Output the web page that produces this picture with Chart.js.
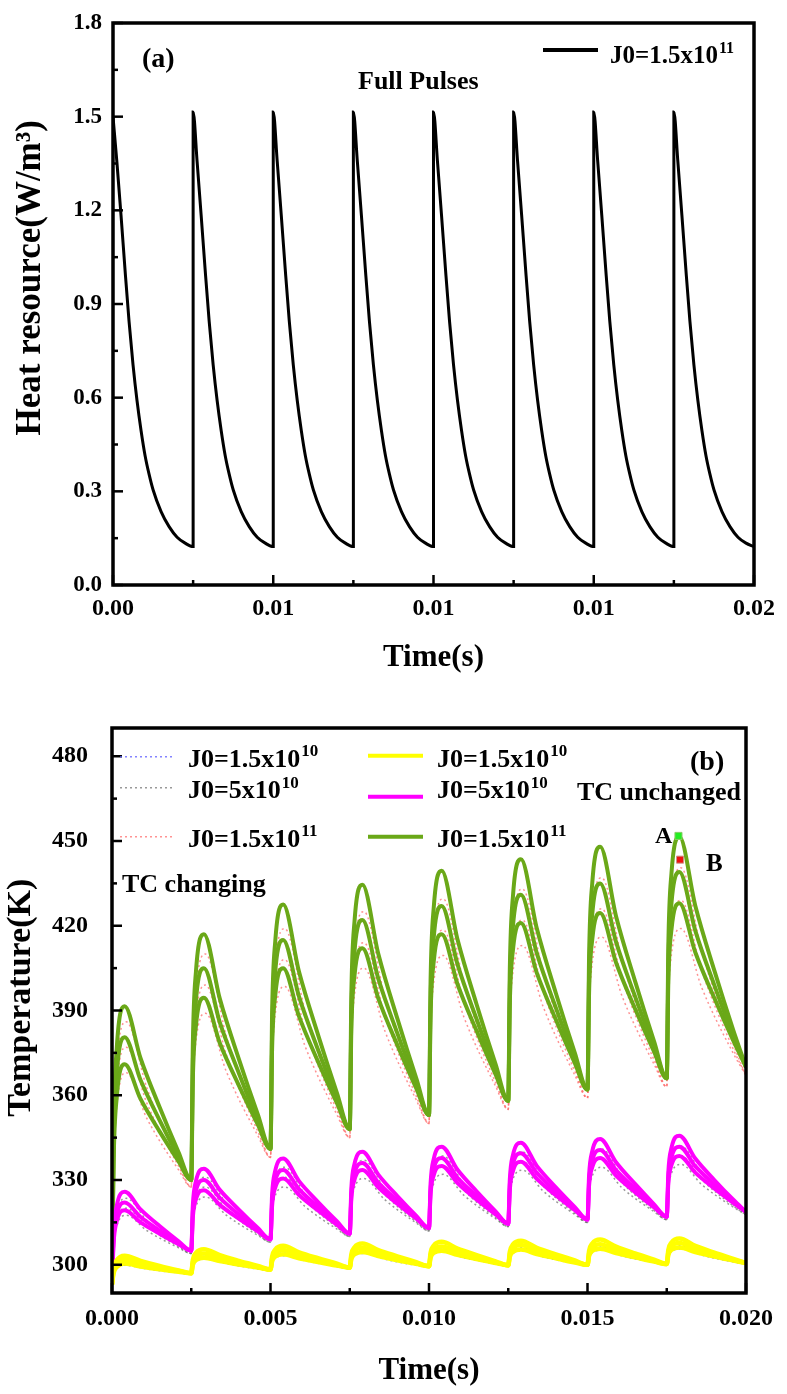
<!DOCTYPE html>
<html><head><meta charset="utf-8">
<script src="https://cdn.jsdelivr.net/npm/chart.js@4.4.1/dist/chart.umd.min.js"></script>
<style>
html,body{margin:0;padding:0;background:#fff;}
#wa{position:absolute;left:0;top:0;width:787px;height:690px;}
#wb{position:absolute;left:0;top:690px;width:787px;height:704px;}
canvas{display:block;}
</style></head><body>
<div id="wa"><canvas id="ca"></canvas></div>
<div id="wb"><canvas id="cb"></canvas></div>
<script>
// ---------- Panel (a) data ----------
const heatTime = [
0,0.000125,0.00025,0.000375,0.0005,0.000625,0.00075,0.000875,0.001,0.001125,0.00125,0.0015,0.00175,0.002,0.00225,0.0025,
0.0025,0.002625,0.00275,0.002875,0.003,0.003125,0.00325,0.003375,0.0035,0.003625,0.00375,0.004,0.00425,0.0045,0.00475,0.005,
0.005,0.005125,0.00525,0.005375,0.0055,0.005625,0.00575,0.005875,0.006,0.006125,0.00625,0.0065,0.00675,0.007,0.00725,0.0075,
0.0075,0.007625,0.00775,0.007875,0.008,0.008125,0.00825,0.008375,0.0085,0.008625,0.00875,0.009,0.00925,0.0095,0.00975,0.01,
0.01,0.010125,0.01025,0.010375,0.0105,0.010625,0.01075,0.010875,0.011,0.011125,0.01125,0.0115,0.01175,0.012,0.01225,0.0125,
0.0125,0.012625,0.01275,0.012875,0.013,0.013125,0.01325,0.013375,0.0135,0.013625,0.01375,0.014,0.01425,0.0145,0.01475,0.015,
0.015,0.015125,0.01525,0.015375,0.0155,0.015625,0.01575,0.015875,0.016,0.016125,0.01625,0.0165,0.01675,0.017,0.01725,0.0175,
0.0175,0.017625,0.01775,0.017875,0.018,0.018125,0.01825,0.018375,0.0185,0.018625,0.01875,0.019,0.01925,0.0195,0.01975,0.02];
const heatValue = [
1.5,1.35,1.185,1.01,0.845,0.705,0.59,0.495,0.415,0.355,0.305,0.235,0.187,0.153,0.134,0.123,
1.515,1.355,1.185,1.01,0.845,0.705,0.59,0.495,0.415,0.355,0.305,0.235,0.187,0.153,0.134,0.123,
1.515,1.355,1.185,1.01,0.845,0.705,0.59,0.495,0.415,0.355,0.305,0.235,0.187,0.153,0.134,0.123,
1.515,1.355,1.185,1.01,0.845,0.705,0.59,0.495,0.415,0.355,0.305,0.235,0.187,0.153,0.134,0.123,
1.515,1.355,1.185,1.01,0.845,0.705,0.59,0.495,0.415,0.355,0.305,0.235,0.187,0.153,0.134,0.123,
1.515,1.355,1.185,1.01,0.845,0.705,0.59,0.495,0.415,0.355,0.305,0.235,0.187,0.153,0.134,0.123,
1.515,1.355,1.185,1.01,0.845,0.705,0.59,0.495,0.415,0.355,0.305,0.235,0.187,0.153,0.134,0.123,
1.515,1.355,1.185,1.01,0.845,0.705,0.59,0.495,0.415,0.355,0.305,0.235,0.187,0.153,0.134,0.123];
const xTicksA = [0,0.005,0.01,0.015,0.02];
const xLabelsA = ['0.00','0.01','0.01','0.01','0.02'];
const xMinorA = [0.0025,0.0075,0.0125,0.0175];
const yTicksA = [0,0.3,0.6,0.9,1.2,1.5,1.8];
const yLabelsA = ['0.0','0.3','0.6','0.9','1.2','1.5','1.8'];
const yMinorA = [0.15,0.45,0.75,1.05,1.35,1.65];

// ---------- Panel (b) data ----------
const timeSolid = [
0,0.00005,0.00015,0.0004,0.0009,0.0015,0.0021,
0.0025,0.00255,0.00265,0.0029,0.0034,0.004,0.0046,
0.005,0.00505,0.00515,0.0054,0.0059,0.0065,0.0071,
0.0075,0.00755,0.00765,0.0079,0.0084,0.009,0.0096,
0.01,0.01005,0.01015,0.0104,0.0109,0.0115,0.0121,
0.0125,0.01255,0.01265,0.0129,0.0134,0.014,0.0146,
0.015,0.01505,0.01515,0.0154,0.0159,0.0165,0.0171,
0.0175,0.01755,0.01765,0.0179,0.0184,0.019,0.0196,
0.02];
const timeDotted = [
0,0.00008,0.00045,0.0011,0.0021,
0.0025,0.00258,0.00295,0.0036,0.0046,
0.005,0.00508,0.00545,0.0061,0.0071,
0.0075,0.00758,0.00795,0.0086,0.0096,
0.01,0.01008,0.01045,0.0111,0.0121,
0.0125,0.01258,0.01295,0.0136,0.0146,
0.015,0.01508,0.01545,0.0161,0.0171,
0.0175,0.01758,0.01795,0.0186,0.0196,
0.02];

// TC unchanged (solid), J0=1.5x10^11
const greenTop = [
293,347.2,376.7,391.5,373.1,355.8,339.8,
330,377.9,404.0,417,394.2,372.9,353.2,
341,388.6,414.5,427.5,403.7,381.4,360.7,
348,395.6,421.5,434.5,410.1,387.2,366.0,
353,400.6,426.5,439.5,415.1,392.2,371.0,
358,405.0,430.7,443.5,419.1,396.2,375.0,
362,409.3,435.1,448,423.4,400.4,379.1,
366,413.0,438.7,451.5,427.1,404.2,383.0,
370];
const greenMid = [
293,341.1,367.4,380.5,365.4,351.2,338.1,
330,371.3,393.8,405,385.8,367.9,351.2,
341,381.7,403.9,415,394.9,376.1,358.7,
348,388.7,410.9,422,401.3,382.0,364.0,
353,393.7,415.9,427,406.3,387.0,369.0,
358,398.2,420.1,431,410.3,391.0,373.0,
362,402.2,424.1,435,414.3,395.0,377.0,
366,406.2,428.1,439,418.3,399.0,381.0,
370];
const greenLow = [
293,335.9,359.3,371,358.7,347.2,336.6,
330,365.5,384.8,394.5,378.5,363.5,349.6,
341,376.2,395.4,405,387.9,371.9,357.1,
348,383.2,402.4,412,394.3,377.8,362.4,
353,388.2,407.4,417,399.3,382.8,367.4,
358,392.7,411.6,421,403.3,386.8,371.4,
362,396.4,415.1,424.5,407.0,390.6,375.4,
366,400.1,418.7,428,410.6,394.4,379.3,
370];
// TC unchanged (solid), J0=5x10^10
const magentaTop = [
293,311.0,320.9,325.8,319.6,313.7,308.3,
305,321.0,329.7,334,326.5,319.5,313.0,
309,324.7,333.3,337.6,329.6,322.2,315.3,
311,327.0,335.7,340,331.9,324.3,317.3,
313,328.8,337.5,341.8,333.6,326.0,318.9,
314.5,330.3,338.9,343.2,335.0,327.4,320.4,
316,331.7,340.2,344.5,336.3,328.6,321.4,
317,332.8,341.4,345.7,337.6,330.0,323.0,
318.7];
const magentaMid = [
293,309.0,317.7,322,316.9,312.1,307.7,
305,318.8,326.3,330,323.7,317.8,312.4,
309,322.5,329.8,333.5,326.8,320.5,314.6,
311,324.8,332.3,336,329.1,322.7,316.7,
313,326.6,334.1,337.8,330.8,324.3,318.2,
314.5,328.3,335.8,339.5,332.5,325.9,319.8,
316,329.5,336.9,340.6,333.5,326.9,320.8,
317,330.6,338.1,341.8,334.9,328.4,322.4,
318.7];
const magentaLow = [
293,307.5,315.4,319.3,315.0,311.0,307.3,
305,316.8,323.2,326.4,321.2,316.3,311.8,
309,320.8,327.3,330.5,324.7,319.2,314.1,
311,323.4,330.1,333.5,327.4,321.6,316.3,
313,325.1,331.7,335,328.9,323.1,317.8,
314.5,326.6,333.2,336.5,330.4,324.6,319.3,
316,328.0,334.5,337.8,331.6,325.7,320.3,
317,328.8,335.3,338.5,332.6,327.0,321.9,
318.7];
// TC unchanged (solid), J0=1.5x10^10
const yellowTop = [
293,298.6,301.6,303.2,301.4,299.6,298.0,
297,301.7,304.2,305.5,303.4,301.4,299.6,
298.3,302.9,305.4,306.7,304.4,302.3,300.4,
299,303.7,306.2,307.5,305.2,303.0,300.9,
299.5,304.3,306.8,308.1,305.7,303.4,301.2,
299.8,304.6,307.2,308.5,306.0,303.7,301.5,
300,304.9,307.5,308.9,306.4,304.0,301.8,
300.3,305.3,307.9,309.3,306.7,304.3,302.1,
300.6];
const yellowMid = [
293,297.8,300.5,301.8,300.4,299.0,297.8,
297,300.9,303.0,304,302.3,300.7,299.2,
298.3,302.1,304.2,305.2,303.3,301.6,300.0,
299,302.9,305.0,306,304.1,302.2,300.5,
299.5,303.4,305.5,306.5,304.5,302.6,300.9,
299.8,303.8,305.9,307,304.9,302.9,301.1,
300,304.0,306.2,307.3,305.2,303.2,301.4,
300.3,304.4,306.6,307.7,305.6,303.6,301.7,
300.6];
const yellowLow = [
293,297.0,299.2,300.4,299.4,298.4,297.5,
297,300.0,301.7,302.5,301.3,300.1,299.0,
298.3,301.2,302.9,303.7,302.3,301.0,299.7,
299,302.0,303.7,304.5,303.1,301.6,300.3,
299.5,302.5,304.2,305.0,303.5,302.0,300.6,
299.8,302.9,304.6,305.4,303.8,302.3,300.8,
300,303.1,304.9,305.7,304.1,302.6,301.1,
300.3,303.5,305.3,306.1,304.5,302.9,301.5,
300.6];

// TC changing (dotted), J0=1.5x10^11
const pinkTop = [
293,358.1,386,362.6,336.3,
327.5,385.3,410,381.2,348.8,
338,394.7,419,389.4,356.1,
345,401,425,395,361.3,
350,405.7,429.5,399.7,366.2,
355,409.6,433,403.4,370.1,
359,413.6,437,407.4,374.1,
363,417.3,440.5,411.1,378.0,
367];
const pinkMid = [
293,351.8,377,357.2,334.9,
327.5,377.6,399,374.6,347.2,
338,387,408,382.8,354.5,
345,393.3,414,388.4,359.6,
350,398,418.5,393.1,364.5,
355,401.9,422,396.8,368.5,
359,405.9,426,400.8,372.5,
363,409.2,429,404.2,376.3,
367];
const pinkLow = [
293,345.5,368,351.8,333.6,
327.5,370.6,389,368.6,345.7,
338,380.4,398.5,377.1,353.0,
345,387,405,383,358.3,
350,391.7,409.5,387.7,363.2,
355,395.6,413,391.4,367.1,
359,398.9,416,394.8,371,
363,402.2,419,398.2,374.8,
367];
// TC changing (dotted), J0=5x10^10
const grayTop = [
293,314.4,323.5,315.7,306.9,
304,322.9,331,321.8,311.5,
308,326.6,334.5,324.7,313.7,
310,328.9,337,327,315.8,
312,330.6,338.5,328.5,317.3,
313.5,332.1,340,330,318.8,
315,333.2,341,331,319.8,
316,334.2,342,332.3,321.3,
317.7];
const grayMid = [
293,311.9,320,313.6,306.4,
304,320.5,327.5,319.7,310.9,
308,324.1,331,322.6,313.2,
310,326.5,333.5,324.9,315.2,
312,328.1,335,326.4,316.7,
313.5,329.6,336.5,327.9,318.2,
315,330.8,337.5,328.9,319.2,
316,331.8,338.5,330.2,320.8,
317.7];
const grayLow = [
293,310.2,317.5,312.1,306.0,
304,318,324,317.6,310.4,
308,321.7,327.5,320.5,312.6,
310,324.4,330.5,323.1,314.8,
312,326,332,324.6,316.3,
313.5,327.5,333.5,326.1,317.8,
315,328.7,334.5,327.1,318.8,
316,329.7,335.5,328.4,320.4,
317.7];
// TC changing (dotted), J0=1.5x10^10
const blueTop = [
293,299.2,301.8,299.7,297.4,
296.6,301.8,304,301.6,298.8,
297.9,303,305.2,302.6,299.6,
298.6,303.8,306,303.2,300.1,
299.1,304.4,306.6,303.7,300.5,
299.4,304.7,307,304,300.7,
299.6,305.1,307.4,304.4,301,
299.9,305.4,307.8,304.8,301.3,
300.2];
const blueMid = [
293,298.5,300.8,299.1,297.2,
296.6,301.1,303,301,298.7,
297.9,302.3,304.2,302,299.4,
298.6,303.1,305,302.6,300,
299.1,303.6,305.5,303.1,300.3,
299.4,304,306,303.4,300.6,
299.6,304.3,306.3,303.7,300.9,
299.9,304.7,306.7,304.1,301.2,
300.2];
const blueLow = [
293,297.8,299.8,298.5,297.1,
296.6,300.4,302,300.4,298.5,
297.9,301.6,303.2,301.4,299.3,
298.6,302.4,304,302,299.8,
299.1,302.9,304.5,302.5,300.2,
299.4,303.3,304.9,302.8,300.4,
299.6,303.5,305.2,303.1,300.7,
299.9,303.9,305.6,303.4,301,
300.2];

// Points A and B
const markerTime = [0.01787, 0.01792];
const markerTemp = [451.8, 443.4];

const xTicksB = [0,0.005,0.01,0.015,0.02];
const xLabelsB = ['0.000','0.005','0.010','0.015','0.020'];
const xMinorB = [0.0025,0.0075,0.0125,0.0175];
const yTicksB = [300,330,360,390,420,450,480];
const yLabelsB = ['300','330','360','390','420','450','480'];
const yMinorB = [315,345,375,405,435,465];

const legendBase = ['J0=1.5x10','J0=5x10','J0=1.5x10'];
const legendSup = ['10','10','11'];

// ---------- helpers ----------
const FONT = '"Liberation Serif", "Times New Roman", serif';
function pairs(t, v){ return v.map((y,i)=>({x:t[i], y:y})); }
function supText(ctx, base, sup, x, y, size, supSize){
  ctx.font = 'bold ' + size + 'px ' + FONT;
  ctx.fillText(base, x, y);
  const w = ctx.measureText(base).width;
  ctx.font = 'bold ' + supSize + 'px ' + FONT;
  ctx.fillText(sup, x + w + 1, y - size * 0.4);
}
const frameTicks = {
  id: 'frameTicks',
  afterDatasetsDraw(chart, args, o){
    const ctx = chart.ctx, a = chart.chartArea, sx = chart.scales.x, sy = chart.scales.y;
    ctx.save();
    ctx.strokeStyle = '#000';
    ctx.lineWidth = 2.5;
    ctx.lineCap = 'butt';
    const seg = (x1,y1,x2,y2)=>{ctx.beginPath();ctx.moveTo(x1,y1);ctx.lineTo(x2,y2);ctx.stroke();};
    o.xMajor.forEach(v=>{const p=sx.getPixelForValue(v); seg(p,a.bottom,p,a.bottom-10);});
    o.xMinor.forEach(v=>{const p=sx.getPixelForValue(v); seg(p,a.bottom,p,a.bottom-5);});
    o.yMajor.forEach(v=>{const p=sy.getPixelForValue(v); seg(a.left,p,a.left+10,p);});
    o.yMinor.forEach(v=>{const p=sy.getPixelForValue(v); seg(a.left,p,a.left+5,p);});
    ctx.lineWidth = 3.5;
    ctx.strokeRect(a.left, a.top, a.right-a.left, a.bottom-a.top);
    ctx.restore();
  }
};

Chart.defaults.font.family = FONT;
Chart.defaults.font.weight = 'bold';
Chart.defaults.color = '#000';

// ---------- Chart (a) ----------
const annotA = {
  id: 'annotA',
  afterDraw(chart){
    const ctx = chart.ctx;
    ctx.save();
    ctx.fillStyle = '#000';
    ctx.textAlign = 'left';
    ctx.textBaseline = 'alphabetic';
    ctx.font = 'bold 28px ' + FONT;
    ctx.fillText('(a)', 142, 67);
    ctx.font = 'bold 26px ' + FONT;
    ctx.fillText('Full Pulses', 358, 89);
    ctx.strokeStyle = '#000';
    ctx.lineWidth = 4;
    ctx.beginPath(); ctx.moveTo(543,50); ctx.lineTo(598,50); ctx.stroke();
    supText(ctx, 'J0=1.5x10', '11', 610, 63, 25, 16);
    ctx.restore();
  }
};

new Chart(document.getElementById('ca'), {
  type: 'line',
  data: { datasets: [{
    label: 'J0=1.5x10^11',
    data: pairs(heatTime, heatValue),
    borderColor: '#000', borderWidth: 3, pointRadius: 0,
    cubicInterpolationMode: 'monotone', fill: false
  }]},
  options: {
    responsive: true, maintainAspectRatio: false, animation: false, devicePixelRatio: 1,
    layout: { padding: { top: 23, right: 32, left: 0, bottom: 0 } },
    plugins: { legend: {display:false}, tooltip: {enabled:false},
      frameTicks: { xMajor: xTicksA, xMinor: xMinorA, yMajor: yTicksA, yMinor: yMinorA } },
    scales: {
      x: { type: 'linear', min: 0, max: 0.02,
        afterBuildTicks: s => { s.ticks = xTicksA.map(v=>({value:v})); },
        afterFit: s => { s.height = 105; },
        ticks: { callback: (v,i) => xLabelsA[i], font: {size: 24, weight:'bold', lineHeight: 1}, padding: 12, maxRotation: 0, color:'#000' },
        grid: { display: false, drawTicks: false }, border: { display: false },
        title: { display: true, text: 'Time(s)', font: {size: 31, weight:'bold', lineHeight: 1}, padding: {top:0, bottom: 17}, color:'#000' }
      },
      y: { type: 'linear', min: 0, max: 1.8,
        afterBuildTicks: s => { s.ticks = yTicksA.map(v=>({value:v})); },
        afterFit: s => { s.width = 113; },
        ticks: { callback: (v,i) => yLabelsA[i], font: {size: 23, weight:'bold', lineHeight: 1}, padding: 11, color:'#000' },
        grid: { display: false, drawTicks: false }, border: { display: false },
        title: { display: true, text: '      Heat resource(W/m³)', font: {size: 35, weight:'bold', lineHeight: 1}, padding: {top: 13, bottom: 0}, color:'#000' }
      }
    }
  },
  plugins: [frameTicks, annotA]
});

// ---------- Chart (b) ----------
const GREEN = '#6aa818', MAGENTA = '#ff00ff', YELLOW = '#ffff00';
const PINK = 'rgba(255,110,110,0.75)', GRAY = 'rgba(110,110,110,0.7)', BLUE = 'rgba(90,90,255,0.75)';

function solid(label, vals, color, w){
  return { label, data: pairs(timeSolid, vals), borderColor: color, borderWidth: w || 4, pointRadius: 0,
    cubicInterpolationMode: 'monotone', fill: false, order: 2 };
}
function dotted(label, vals, color){
  return { label, data: pairs(timeDotted, vals), borderColor: color, borderWidth: 1.5, borderDash: [2,3], pointRadius: 0,
    cubicInterpolationMode: 'monotone', fill: false, order: 3 };
}

const annotB = {
  id: 'annotB',
  afterDraw(chart){
    const ctx = chart.ctx;
    ctx.save();
    ctx.fillStyle = '#000';
    ctx.textAlign = 'left';
    ctx.textBaseline = 'alphabetic';
    const dotCols = [BLUE, GRAY, PINK];
    const solCols = [YELLOW, MAGENTA, GREEN];
    const lineYL = [66.7, 97.7, 146.7];
    const lineYR = [65.7, 106.7, 146.7];
    const baseY = [76.7, 108.3, 156.7];
    for (let i=0;i<3;i++){
      ctx.strokeStyle = dotCols[i]; ctx.lineWidth = 1.5; ctx.setLineDash([2,3]);
      ctx.beginPath(); ctx.moveTo(120, lineYL[i]); ctx.lineTo(172, lineYL[i]); ctx.stroke();
      ctx.setLineDash([]);
      ctx.strokeStyle = solCols[i]; ctx.lineWidth = 4;
      ctx.beginPath(); ctx.moveTo(368, lineYR[i]); ctx.lineTo(423, lineYR[i]); ctx.stroke();
      supText(ctx, legendBase[i], legendSup[i], 188, baseY[i], 26, 17);
      supText(ctx, legendBase[i], legendSup[i], 437, baseY[i], 26, 17);
    }
    ctx.font = 'bold 28px ' + FONT; ctx.fillText('(b)', 690, 80);
    ctx.font = 'bold 26px ' + FONT; ctx.fillText('TC unchanged', 577, 110);
    ctx.font = 'bold 26px ' + FONT; ctx.fillText('TC changing', 122, 202);
    ctx.font = 'bold 24px ' + FONT; ctx.fillText('A', 655, 153);
    ctx.font = 'bold 25px ' + FONT; ctx.fillText('B', 706, 181);
    ctx.restore();
  }
};

new Chart(document.getElementById('cb'), {
  type: 'line',
  data: { datasets: [
    { label: 'A', data: [{x: markerTime[0], y: markerTemp[0]}], showLine: false, pointStyle: 'rect',
      pointRadius: 5, backgroundColor: '#22ee22', borderColor: '#88cc66', borderWidth: 1, order: 0 },
    { label: 'B', data: [{x: markerTime[1], y: markerTemp[1]}], showLine: false, pointStyle: 'rect',
      pointRadius: 5, backgroundColor: '#ee1111', borderColor: '#cc9988', borderWidth: 1, order: 0 },
    solid('J0=1.5x10^10 TC unchanged', yellowTop, YELLOW, 4.5),
    solid('J0=1.5x10^10 TC unchanged mid', yellowMid, YELLOW, 4.5),
    solid('J0=1.5x10^10 TC unchanged low', yellowLow, YELLOW, 4.5),
    solid('J0=5x10^10 TC unchanged', magentaTop, MAGENTA),
    solid('J0=5x10^10 TC unchanged mid', magentaMid, MAGENTA),
    solid('J0=5x10^10 TC unchanged low', magentaLow, MAGENTA),
    solid('J0=1.5x10^11 TC unchanged', greenTop, GREEN),
    solid('J0=1.5x10^11 TC unchanged mid', greenMid, GREEN),
    solid('J0=1.5x10^11 TC unchanged low', greenLow, GREEN),
    dotted('J0=1.5x10^10 TC changing', blueTop, BLUE),
    dotted('J0=1.5x10^10 TC changing mid', blueMid, BLUE),
    dotted('J0=1.5x10^10 TC changing low', blueLow, BLUE),
    dotted('J0=5x10^10 TC changing', grayTop, GRAY),
    dotted('J0=5x10^10 TC changing mid', grayMid, GRAY),
    dotted('J0=5x10^10 TC changing low', grayLow, GRAY),
    dotted('J0=1.5x10^11 TC changing', pinkTop, PINK),
    dotted('J0=1.5x10^11 TC changing mid', pinkMid, PINK),
    dotted('J0=1.5x10^11 TC changing low', pinkLow, PINK)
  ]},
  options: {
    responsive: true, maintainAspectRatio: false, animation: false, devicePixelRatio: 1,
    layout: { padding: { top: 38, right: 32, left: 0, bottom: 0 } },
    plugins: { legend: {display:false}, tooltip: {enabled:false},
      frameTicks: { xMajor: xTicksB, xMinor: xMinorB, yMajor: yTicksB, yMinor: yMinorB } },
    scales: {
      x: { type: 'linear', min: 0, max: 0.02,
        afterBuildTicks: s => { s.ticks = xTicksB.map(v=>({value:v})); },
        afterFit: s => { s.height = 101; },
        ticks: { callback: (v,i) => xLabelsB[i], font: {size: 24, weight:'bold', lineHeight: 1}, padding: 14, maxRotation: 0, color:'#000' },
        grid: { display: false, drawTicks: false }, border: { display: false },
        title: { display: true, text: 'Time(s)', font: {size: 31, weight:'bold', lineHeight: 1}, padding: {top:0, bottom: 8}, color:'#000' }
      },
      y: { type: 'linear', min: 290, max: 490,
        afterBuildTicks: s => { s.ticks = yTicksB.map(v=>({value:v})); },
        afterFit: s => { s.width = 112; },
        ticks: { callback: (v,i) => yLabelsB[i], font: {size: 24, weight:'bold', lineHeight: 1}, padding: 24, color:'#000' },
        grid: { display: false, drawTicks: false }, border: { display: false },
        title: { display: true, text: '   Temperature(K)', font: {size: 34, weight:'bold', lineHeight: 1}, padding: {top: 4, bottom: 0}, color:'#000' }
      }
    }
  },
  plugins: [frameTicks, annotB]
});
</script>
</body></html>
